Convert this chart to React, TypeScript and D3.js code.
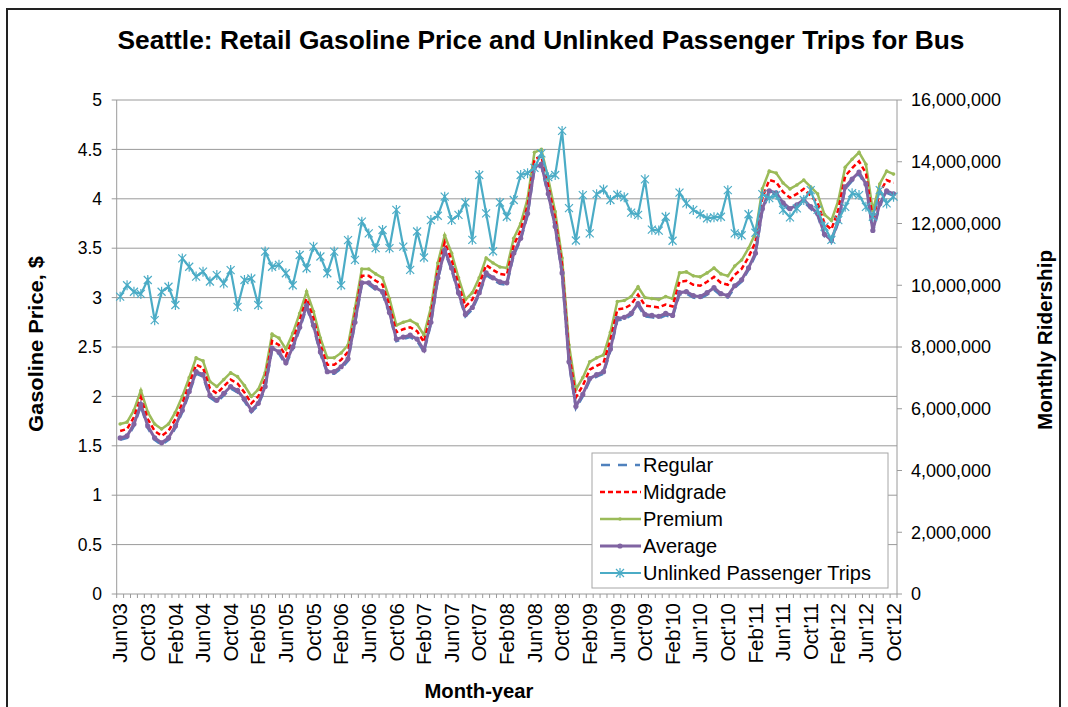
import React from 'react';
import * as d3 from 'd3';

const tickLabels = ["Jun'03","Oct'03","Feb'04","Jun'04","Oct'04","Feb'05","Jun'05","Oct'05","Feb'06","Jun'06","Oct'06","Feb'07","Jun'07","Oct'07","Feb'08","Jun'08","Oct'08","Feb'09","Jun'09","Oct'09","Feb'10","Jun'10","Oct'10","Feb'11","Jun'11","Oct'11","Feb'12","Jun'12","Oct'12"];

const months = d3.timeMonth.range(new Date(2003, 5, 1), new Date(2012, 10, 1));

const regular = [1.56,1.58,1.70,1.90,1.68,1.56,1.51,1.56,1.68,1.84,
 2.03,2.23,2.20,1.99,1.94,2.01,2.08,2.04,1.95,1.84,
 1.91,2.08,2.47,2.43,2.32,2.48,2.68,2.90,2.70,2.43,
 2.23,2.23,2.28,2.36,2.73,3.13,3.13,3.08,3.04,2.83,
 2.56,2.58,2.60,2.56,2.45,2.73,3.18,3.46,3.28,3.03,
 2.81,2.88,3.03,3.23,3.18,3.14,3.13,3.43,3.58,3.83,
 4.30,4.33,4.03,3.70,3.23,2.33,1.88,2.00,2.16,2.20,
 2.23,2.46,2.77,2.78,2.82,2.92,2.81,2.80,2.79,2.82,
 2.80,3.03,3.04,3.00,2.99,3.03,3.08,3.02,3.00,3.10,
 3.16,3.28,3.43,3.88,4.06,4.04,3.94,3.88,3.92,3.97,
 3.90,3.83,3.62,3.56,3.76,4.10,4.18,4.25,4.13,3.66,
 3.93,4.06,4.03];

const midgrade = [1.65,1.67,1.79,1.99,1.77,1.65,1.60,1.65,1.77,1.93,
 2.12,2.32,2.29,2.08,2.03,2.10,2.17,2.13,2.04,1.93,
 2.00,2.17,2.56,2.52,2.41,2.57,2.77,2.99,2.79,2.52,
 2.32,2.32,2.37,2.45,2.82,3.22,3.22,3.17,3.13,2.92,
 2.65,2.68,2.70,2.66,2.55,2.83,3.28,3.56,3.38,3.13,
 2.91,2.98,3.13,3.33,3.28,3.24,3.23,3.53,3.68,3.93,
 4.40,4.43,4.13,3.80,3.33,2.44,1.99,2.11,2.27,2.31,
 2.34,2.57,2.88,2.89,2.93,3.03,2.92,2.91,2.90,2.93,
 2.91,3.16,3.17,3.13,3.12,3.16,3.21,3.15,3.13,3.23,
 3.29,3.41,3.56,4.01,4.19,4.17,4.07,4.01,4.05,4.10,
 4.03,3.96,3.75,3.69,3.89,4.23,4.31,4.38,4.26,3.79,
 4.06,4.19,4.16];

const premium = [1.72,1.74,1.86,2.06,1.84,1.72,1.67,1.72,1.84,2.00,
 2.19,2.39,2.36,2.15,2.10,2.17,2.24,2.20,2.11,2.00,
 2.07,2.24,2.63,2.59,2.48,2.64,2.84,3.06,2.86,2.59,
 2.39,2.39,2.44,2.52,2.89,3.29,3.29,3.24,3.20,2.99,
 2.72,2.75,2.77,2.73,2.62,2.90,3.35,3.63,3.45,3.20,
 2.98,3.05,3.20,3.40,3.35,3.31,3.30,3.60,3.75,4.00,
 4.47,4.50,4.20,3.87,3.40,2.52,2.07,2.19,2.35,2.39,
 2.42,2.65,2.96,2.97,3.01,3.11,3.00,2.99,2.98,3.01,
 2.99,3.25,3.26,3.22,3.21,3.25,3.30,3.24,3.22,3.32,
 3.38,3.50,3.65,4.10,4.28,4.26,4.16,4.10,4.14,4.19,
 4.12,4.05,3.84,3.78,3.98,4.32,4.40,4.47,4.35,3.88,
 4.15,4.28,4.25];

const average = [1.58,1.60,1.72,1.92,1.70,1.58,1.53,1.58,1.70,1.86,
 2.05,2.25,2.22,2.01,1.96,2.03,2.10,2.06,1.97,1.86,
 1.93,2.10,2.49,2.45,2.34,2.50,2.70,2.92,2.72,2.45,
 2.25,2.25,2.30,2.38,2.75,3.15,3.15,3.10,3.06,2.85,
 2.58,2.60,2.62,2.58,2.47,2.75,3.20,3.48,3.30,3.05,
 2.83,2.90,3.05,3.25,3.20,3.16,3.15,3.45,3.60,3.85,
 4.32,4.35,4.05,3.72,3.25,2.35,1.90,2.02,2.18,2.22,
 2.25,2.48,2.79,2.80,2.84,2.94,2.83,2.82,2.81,2.84,
 2.82,3.05,3.06,3.02,3.01,3.05,3.10,3.04,3.02,3.12,
 3.18,3.30,3.45,3.90,4.08,4.06,3.96,3.90,3.94,3.99,
 3.92,3.85,3.64,3.58,3.78,4.12,4.20,4.27,4.15,3.68,
 3.95,4.08,4.05];

// Unlinked passenger trips, millions
const trips = [9.63,10.0,9.79,9.72,10.17,8.87,9.79,9.95,9.36,10.87,
 10.6,10.28,10.44,10.12,10.33,10.06,10.49,9.3,10.17,10.22,
 9.36,11.09,10.6,10.66,10.39,10.0,10.98,10.55,11.25,10.93,
 10.39,11.09,10.0,11.46,10.82,12.06,11.68,11.2,11.79,11.2,
 12.44,11.25,10.5,11.74,10.9,12.11,12.25,12.87,12.11,12.28,
 12.68,11.47,13.57,12.33,11.1,12.68,12.22,12.76,13.57,13.63,
 13.8,14.27,13.5,13.57,15.0,12.5,11.45,12.92,11.68,12.95,
 13.1,12.76,12.93,12.85,12.35,12.28,13.43,11.8,11.77,12.22,
 11.44,13.0,12.65,12.44,12.3,12.17,12.2,12.22,13.08,11.68,
 11.62,12.3,11.7,12.95,12.82,12.92,12.44,12.2,12.49,12.76,
 13.08,12.44,11.9,11.47,12.11,12.54,12.98,12.92,12.54,12.22,
 13.08,12.65,12.87];

const leftTicks = [0, 0.5, 1, 1.5, 2, 2.5, 3, 3.5, 4, 4.5, 5];
const rightTicks = [0, 2e6, 4e6, 6e6, 8e6, 10e6, 12e6, 14e6, 16e6];

const C = {
  regular: '#4f81bd',
  midgrade: '#ff0000',
  premium: '#9bbb59',
  average: '#8064a2',
  trips: '#4bacc6',
};

const FONT = "'Liberation Sans', Arial, sans-serif";
const NARROW = "'Liberation Sans Narrow', 'Arial Narrow', 'Liberation Sans', Arial, sans-serif";

const starPath = 'M-4,-4L4,4M-4,4L4,-4M0,-5L0,5';

export default function App() {
  const W = 1068, H = 707;
  const left = 116.7, right = 897, top = 100, bottom = 594;
  const idx = d3.range(months.length);
  const x = d3.scalePoint<number>().domain(idx).range([left, right]).padding(0.5);
  const y = d3.scaleLinear().domain([0, 5]).range([bottom, top]);
  const y2 = d3.scaleLinear().domain([0, 16e6]).range([bottom, top]);
  const step = x.step();

  const priceLine = (arr: number[]) =>
    d3.line<number>().x((_, i) => x(i) as number).y(d => y(d))(arr) || '';
  const tripsLine = d3.line<number>().x((_, i) => x(i) as number).y(d => y2(d * 1e6))(trips) || '';
  const fmt = d3.format(',');

  const legendItems = [
    { label: 'Regular', key: 'regular' },
    { label: 'Midgrade', key: 'midgrade' },
    { label: 'Premium', key: 'premium' },
    { label: 'Average', key: 'average' },
    { label: 'Unlinked Passenger Trips', key: 'trips' },
  ];

  return (
    <svg width={W} height={H} style={{ position: 'absolute', left: 0, top: 0, background: '#fff' }} fontFamily={FONT}>
      <rect x={0} y={0} width={W} height={H} fill="#fff" />
      {/* outer frame */}
      <rect x={7} y={9} width={1053} height={720} fill="none" stroke="#222" strokeWidth={2} />
      <text x={541} y={49} textAnchor="middle" fontSize={25} fontWeight="bold" fill="#000" fontFamily={NARROW}
        textLength={847} lengthAdjust="spacingAndGlyphs">
        Seattle: Retail Gasoline Price and Unlinked Passenger Trips for Bus
      </text>

      {/* gridlines */}
      {leftTicks.map(t => (
        <line key={'g' + t} x1={left - 5} x2={right} y1={y(t)} y2={y(t)} stroke="#9a9a9a" strokeWidth={1} />
      ))}
      {/* axes lines */}
      <line x1={left} x2={left} y1={top} y2={bottom} stroke="#9a9a9a" />
      <line x1={right} x2={right} y1={top} y2={bottom} stroke="#9a9a9a" />
      {rightTicks.map(t => (
        <line key={'rt' + t} x1={right} x2={right + 5} y1={y2(t)} y2={y2(t)} stroke="#9a9a9a" />
      ))}
      {/* x ticks */}
      {d3.range(months.length + 1).map(i => (
        <line key={'xt' + i} x1={left + i * step} x2={left + i * step} y1={bottom} y2={bottom + 4} stroke="#9a9a9a" />
      ))}

      {/* left labels */}
      {leftTicks.map(t => (
        <text key={'ll' + t} x={102} y={y(t)} dy="0.35em" textAnchor="end" fontSize={17.5} fill="#000">{String(t)}</text>
      ))}
      {rightTicks.map(t => (
        <text key={'rl' + t} x={911} y={y2(t)} dy="0.35em" textAnchor="start" fontSize={18} fill="#000">{fmt(t)}</text>
      ))}
      {tickLabels.map((lab, k) => {
        const xi = x(k * 4) as number;
        return (
          <text key={'xl' + k} transform={`translate(${xi},${bottom + 9}) rotate(-90)`} dy="0.35em" textAnchor="end" fontSize={20.5} fill="#000">{lab}</text>
        );
      })}

      {/* axis titles */}
      <text transform={`translate(43,${344}) rotate(-90)`} textAnchor="middle" fontSize={20} fontWeight="bold" fontFamily={NARROW}
        textLength={176} lengthAdjust="spacingAndGlyphs">Gasoline Price, $</text>
      <text transform={`translate(1052,${340}) rotate(-90)`} textAnchor="middle" fontSize={20} fontWeight="bold" fontFamily={NARROW}
        textLength={180} lengthAdjust="spacingAndGlyphs">Monthly Ridership</text>
      <text x={479} y={698} textAnchor="middle" fontSize={20} fontWeight="bold" fontFamily={NARROW}
        textLength={109} lengthAdjust="spacingAndGlyphs">Month-year</text>

      {/* series */}
      <path d={priceLine(regular)} fill="none" stroke={C.regular} strokeWidth={2.5} strokeDasharray="9,6" />
      <path d={priceLine(premium)} fill="none" stroke={C.premium} strokeWidth={2.5} />
      {premium.map((v, i) => (
        <circle key={'pm' + i} cx={x(i)} cy={y(v)} r={1.8} fill={C.premium} />
      ))}
      <path d={priceLine(midgrade)} fill="none" stroke={C.midgrade} strokeWidth={2.5} strokeDasharray="5,3" />
      <path d={priceLine(average)} fill="none" stroke={C.average} strokeWidth={3} />
      {average.map((v, i) => (
        <circle key={'am' + i} cx={x(i)} cy={y(v)} r={2.6} fill={C.average} />
      ))}
      <path d={tripsLine} fill="none" stroke={C.trips} strokeWidth={2.2} />
      {trips.map((v, i) => (
        <path key={'tm' + i} d={starPath} transform={`translate(${x(i)},${y2(v * 1e6)})`} stroke={C.trips} strokeWidth={1.2} fill="none" />
      ))}

      {/* legend */}
      <rect x={592} y={453} width={296} height={135} fill="#fff" stroke="#a6a6a6" />
      {legendItems.map((it, k) => {
        const ly = 465 + k * 27;
        const col = (C as any)[it.key];
        return (
          <g key={'lg' + k}>
            {it.key === 'regular' && <line x1={601} x2={640} y1={ly} y2={ly} stroke={col} strokeWidth={2.5} strokeDasharray="9,8" />}
            {it.key === 'midgrade' && <line x1={600} x2={641} y1={ly} y2={ly} stroke={col} strokeWidth={2.5} strokeDasharray="5,3" />}
            {it.key === 'premium' && (<g><line x1={600} x2={641} y1={ly} y2={ly} stroke={col} strokeWidth={2.5} /><circle cx={620} cy={ly} r={1.8} fill={col} /></g>)}
            {it.key === 'average' && (<g><line x1={600} x2={641} y1={ly} y2={ly} stroke={col} strokeWidth={3} /><circle cx={620} cy={ly} r={2.6} fill={col} /></g>)}
            {it.key === 'trips' && (<g><line x1={600} x2={641} y1={ly} y2={ly} stroke={col} strokeWidth={2} /><path d={starPath} transform={`translate(620,${ly})`} stroke={col} strokeWidth={1.2} fill="none" /></g>)}
            <text x={643} y={ly} dy="0.35em" fontSize={20} fill="#000">{it.label}</text>
          </g>
        );
      })}
    </svg>
  );
}
